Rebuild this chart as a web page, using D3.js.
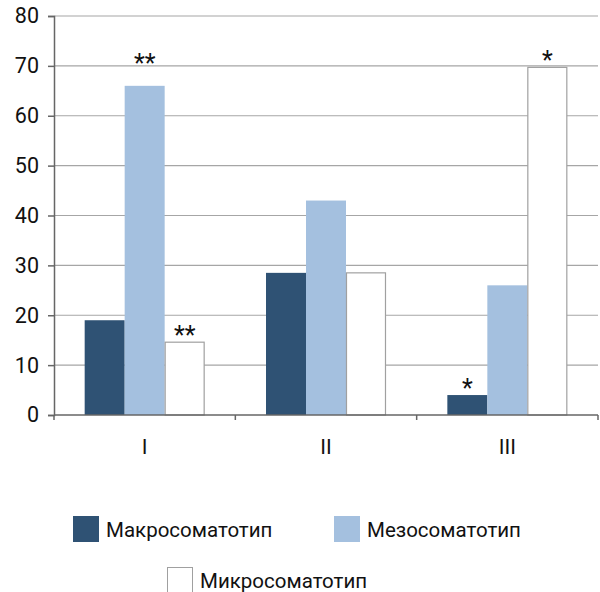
<!DOCTYPE html>
<html><head><meta charset="utf-8">
<script src="https://cdn.jsdelivr.net/npm/d3@7"></script>
<style>body{margin:0;background:#fff}svg{display:block}text{font-family:Roboto,"Noto Sans",sans-serif;fill:#111}</style>
</head><body><div id="c"></div>
<script>
const categories = ["I","II","III"];
const seriesNames = ["Макросоматотип","Мезосоматотип","Микросоматотип"];
const macro = [19, 28.5, 4];
const meso = [66, 43, 26];
const micro = [14.6, 28.5, 69.7];
const marks = [["", "**", "**"], ["", "", ""], ["*", "", "*"]];
const yTicks = [0,10,20,30,40,50,60,70,80];

const colors = ["#2f5274", "#a4c0df", "#ffffff"];
const W = 600, H = 592;
const m = {l:54, r:2, t:16, b:177};
const svg = d3.select("#c").append("svg").attr("width", W).attr("height", H);
const x = d3.scaleBand().domain(categories).range([m.l, W - m.r]).paddingInner(0).paddingOuter(0);
const x1 = d3.scaleBand().domain(d3.range(3)).range([0, x.bandwidth()]).paddingOuter(0.767).paddingInner(0);
const y = d3.scaleLinear().domain([0, 80]).range([H - m.b, m.t]);
const vals = [macro, meso, micro];
const lift = (ci, si) => (ci === 0 && si === 1) ? 24 : 8;

// grid
svg.append("g").selectAll("line").data(yTicks.filter(d => d > 0)).join("line")
  .attr("x1", m.l).attr("x2", W - m.r).attr("y1", d => y(d)).attr("y2", d => y(d))
  .attr("stroke", "#a6a6a6").attr("stroke-width", 1.2);

// bars
categories.forEach((c, ci) => {
  vals.forEach((s, si) => {
    svg.append("rect")
      .attr("x", x(c) + x1(si) + (si === 2 ? 0.5 : 0))
      .attr("y", y(s[ci]))
      .attr("width", x1.bandwidth() - (si === 2 ? 1 : 0))
      .attr("height", y(0) - y(s[ci]))
      .attr("fill", colors[si])
      .attr("stroke", si === 2 ? "#a0a0a0" : "none")
      .attr("stroke-width", 1.2);
    const mk = marks[ci][si];
    if (mk) {
      svg.append("text").attr("x", x(c) + x1(si) + x1.bandwidth()/2)
        .attr("y", y(s[ci]) - lift(ci, si) + 10).attr("text-anchor", "middle")
        .style("font-size", "25px").text(mk);
    }
  });
});

// y axis
const ya = svg.append("g").attr("transform", `translate(${m.l},0)`)
  .call(d3.axisLeft(y).tickValues(yTicks).tickSize(6).tickPadding(9));
ya.select(".domain").attr("stroke", "#666").attr("stroke-width", 1.5);
ya.selectAll(".tick line").attr("stroke", "#666").attr("stroke-width", 1.5);
ya.selectAll("text").style("font-size", "21.5px").attr("fill", "#111");

// x axis
const xa = svg.append("g").attr("transform", `translate(0,${y(0)})`);
xa.append("line").attr("x1", m.l).attr("x2", W - m.r).attr("y1", 0).attr("y2", 0)
  .attr("stroke", "#666").attr("stroke-width", 1.5);
const bounds = categories.map(c => x(c)).concat([x(categories[2]) + x.bandwidth()]);
xa.selectAll(".tk").data(bounds).join("line").attr("x1", d => d).attr("x2", d => d)
  .attr("y1", 0).attr("y2", 5).attr("stroke", "#666").attr("stroke-width", 1.5);
xa.selectAll(".cl").data(categories).join("text")
  .attr("x", d => x(d) + x.bandwidth()/2).attr("y", 39).attr("text-anchor", "middle")
  .style("font-size", "21px").text(d => d);

// legend
const leg = [[73, 516], [334, 516], [167, 567]];
seriesNames.forEach((n, i) => {
  const g = svg.append("g").attr("transform", `translate(${leg[i][0]},${leg[i][1]})`);
  g.append("rect").attr("x", i === 2 ? 0.5 : 0).attr("y", i === 2 ? 0.5 : 0)
    .attr("width", i === 2 ? 25 : 26).attr("height", i === 2 ? 25 : 26)
    .attr("fill", colors[i]).attr("stroke", i === 2 ? "#a0a0a0" : "none");
  g.append("text").attr("x", 33).attr("y", 20.5).style("font-size", "20.5px").text(n);
});
</script></body></html>
